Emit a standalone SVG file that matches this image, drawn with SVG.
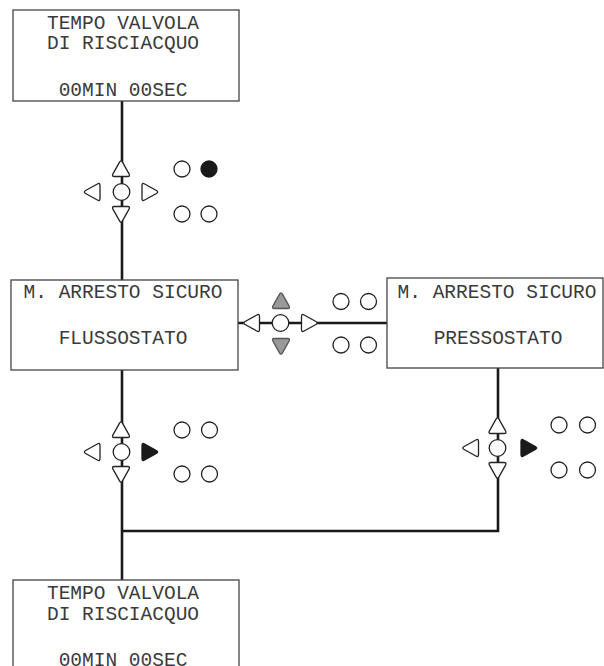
<svg xmlns="http://www.w3.org/2000/svg" xmlns:xlink="http://www.w3.org/1999/xlink" width="604" height="666" viewBox="0 0 604 666">
<style>
.box{fill:#fff;stroke:#444;stroke-width:1.3}
.t{font-family:'Liberation Mono','Cousine','DejaVu Sans Mono',monospace;font-size:19.5px;fill:#3a3a3a;text-anchor:middle}
.con{fill:none;stroke:#1a1a1a;stroke-width:2.6}
.k{fill:#fff;stroke:#222;stroke-width:1.3}
.kf{fill:#1a1a1a;stroke:#1a1a1a;stroke-width:1.3}
.kg{fill:#999;stroke:#555;stroke-width:1.3}
</style>
<defs>
<path id="tri" d="M -1.46,-5.88 Q 0,-8.5 1.46,-5.88 L 8.04,5.88 Q 9.5,8.5 6.5,8.5 L -6.5,8.5 Q -9.5,8.5 -8.04,5.88 Z"/>
</defs>
<g id="connectors">
<line class="con" x1="122" y1="101" x2="122" y2="280"/>
<line class="con" x1="238" y1="323" x2="387" y2="323"/>
<line class="con" x1="122" y1="370" x2="122" y2="580"/>
<polyline class="con" points="498,368 498,531 122,531"/>
</g>
<g id="box-top">
<rect class="box" x="13" y="10" width="226" height="91"/>
<text class="t" x="123" y="29" font-family="Liberation Mono, monospace">TEMPO VALVOLA</text>
<text class="t" x="123" y="49" font-family="Liberation Mono, monospace">DI RISCIACQUO</text>
<text class="t" x="123" y="96" font-family="Liberation Mono, monospace">00MIN 00SEC</text>
</g>
<g id="box-flussostato">
<rect class="box" x="11" y="280" width="227" height="90"/>
<text class="t" x="123" y="298" font-family="Liberation Mono, monospace">M. ARRESTO SICURO</text>
<text class="t" x="123" y="344" font-family="Liberation Mono, monospace">FLUSSOSTATO</text>
</g>
<g id="box-pressostato">
<rect class="box" x="387" y="278" width="216" height="90"/>
<text class="t" x="497" y="298" font-family="Liberation Mono, monospace">M. ARRESTO SICURO</text>
<text class="t" x="498" y="344" font-family="Liberation Mono, monospace">PRESSOSTATO</text>
</g>
<g id="box-bottom">
<rect class="box" x="13" y="580" width="226" height="91"/>
<text class="t" x="123" y="599" font-family="Liberation Mono, monospace">TEMPO VALVOLA</text>
<text class="t" x="123" y="620" font-family="Liberation Mono, monospace">DI RISCIACQUO</text>
<text class="t" x="123" y="666" font-family="Liberation Mono, monospace">00MIN 00SEC</text>
</g>
<g id="pad1">
<use href="#tri" class="k" transform="translate(121,168)"/>
<use href="#tri" class="k" transform="translate(121,215) rotate(180)"/>
<use href="#tri" class="k" transform="translate(91.5,192) rotate(-90)"/>
<use href="#tri" class="k" transform="translate(150.5,192) rotate(90)"/>
<circle class="k" cx="121.5" cy="192" r="8.3"/>
<circle class="k" cx="182" cy="169" r="8"/>
<circle class="kf" cx="209" cy="169" r="8"/>
<circle class="k" cx="182" cy="214" r="8"/>
<circle class="k" cx="209" cy="214" r="8"/>
</g>
<g id="pad2">
<use href="#tri" class="kg" transform="translate(281,300)"/>
<use href="#tri" class="kg" transform="translate(281,347) rotate(180)"/>
<use href="#tri" class="k" transform="translate(251,323) rotate(-90)"/>
<use href="#tri" class="k" transform="translate(310,323) rotate(90)"/>
<circle class="k" cx="280.5" cy="323" r="8.3"/>
<circle class="k" cx="341" cy="301.5" r="8"/>
<circle class="k" cx="368.5" cy="301.5" r="8"/>
<circle class="k" cx="341" cy="345" r="8"/>
<circle class="k" cx="368.5" cy="345" r="8"/>
</g>
<g id="pad3">
<use href="#tri" class="k" transform="translate(121,429)"/>
<use href="#tri" class="k" transform="translate(121,475) rotate(180)"/>
<use href="#tri" class="k" transform="translate(91.5,452) rotate(-90)"/>
<use href="#tri" class="kf" transform="translate(150.5,452) rotate(90)"/>
<circle class="k" cx="121.5" cy="452" r="8.3"/>
<circle class="k" cx="182" cy="430" r="8"/>
<circle class="k" cx="209.5" cy="430" r="8"/>
<circle class="k" cx="182" cy="474" r="8"/>
<circle class="k" cx="209.5" cy="474" r="8"/>
</g>
<g id="pad4">
<use href="#tri" class="k" transform="translate(497.5,425)"/>
<use href="#tri" class="k" transform="translate(497.5,471) rotate(180)"/>
<use href="#tri" class="k" transform="translate(470,448) rotate(-90)"/>
<use href="#tri" class="kf" transform="translate(529.5,448) rotate(90)"/>
<circle class="k" cx="497.5" cy="448" r="8.3"/>
<circle class="k" cx="559" cy="425" r="8"/>
<circle class="k" cx="587.5" cy="425" r="8"/>
<circle class="k" cx="559" cy="470" r="8"/>
<circle class="k" cx="587.5" cy="470" r="8"/>
</g>
</svg>
